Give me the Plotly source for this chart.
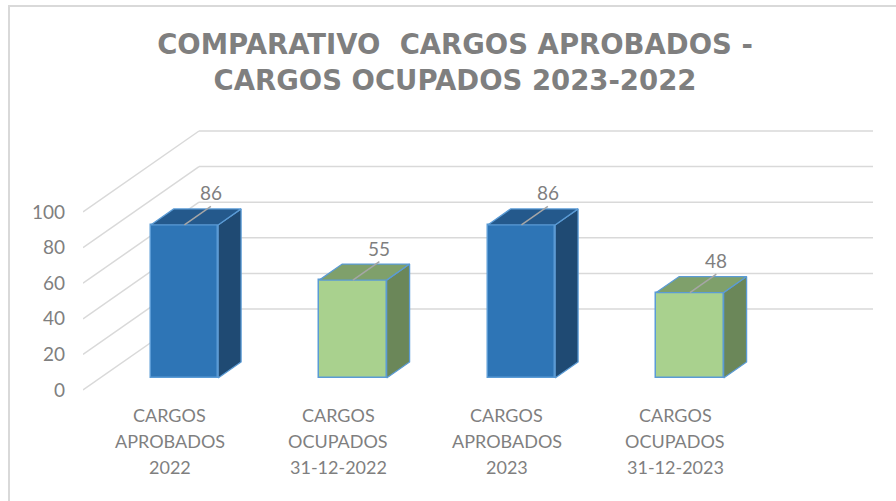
import plotly.graph_objects as go

# ---------------- data ----------------
categories = [
    "CARGOS<br>APROBADOS<br>2022",
    "CARGOS<br>OCUPADOS<br>31-12-2022",
    "CARGOS<br>APROBADOS<br>2023",
    "CARGOS<br>OCUPADOS<br>31-12-2023",
]
values = [86, 55, 86, 48]
bar_kind = ["aprobados", "ocupados", "aprobados", "ocupados"]
y_ticks = [0, 20, 40, 60, 80, 100]
title_text = "COMPARATIVO  CARGOS APROBADOS -<br>CARGOS OCUPADOS 2023-2022"

# ---------------- styles ----------------
FACE_COLORS = {
    "aprobados": {"front": "#2E75B6", "top": "#24598C", "side": "#1F4A73"},
    "ocupados": {"front": "#A9D18E", "top": "#7FA06B", "side": "#6B8759"},
}
EDGE = "#5B9BD5"
GRID = "#D9D9D9"
TXT = "#7F7F7F"
LABEL_FONT = "Lato"

# ---------------- geometry (pixel calibration) ----------------
W, H = 896, 501
PLOT_L = 83            # left edge of plot area (front plane, category -0.5)
X_PX = 168.5           # px per category
Y_PX = 1.78            # px per value unit
Y0_PX = 390            # pixel row of value 0 on the front plane
DEPTH_X = 116 / X_PX   # full wall depth, in category units
DEPTH_Y = 81 / Y_PX    # full wall depth, in value units
BAR_FRONT = 0.148      # depth fraction of bar front face
BAR_BACK = 0.346       # depth fraction of bar back face
BAR_W = 0.40

x_range = [-0.5, -0.5 + (W - PLOT_L) / X_PX]
y_range = [-(H - Y0_PX) / Y_PX, Y0_PX / Y_PX]


def proj(x, v, d):
    return x + d * DEPTH_X, v + d * DEPTH_Y


def px_to_v(py):
    return (Y0_PX - py) / Y_PX


fig = go.Figure()
shapes = []

# walls: back-wall gridlines and left-wall diagonals
n = len(values)
for t in y_ticks:
    xa, ya = proj(-0.5, t, 1)
    xb, yb = proj(n - 0.5, t, 1)
    shapes.append(dict(type="line", xref="x", yref="y", x0=xa, y0=ya, x1=xb, y1=yb,
                       line=dict(color=GRID, width=1.5), layer="below"))
    xf, yf = proj(-0.5, t, 0)
    shapes.append(dict(type="line", xref="x", yref="y", x0=xf, y0=yf, x1=xa, y1=ya,
                       line=dict(color=GRID, width=1.5), layer="below"))


# chart border
def paper_x(px):
    return (px - PLOT_L) / (W - PLOT_L)


def paper_y(py):
    return 1 - py / H


shapes.append(dict(type="rect", xref="paper", yref="paper",
                   x0=paper_x(9), y0=paper_y(505), x1=paper_x(898), y1=paper_y(6),
                   line=dict(color=GRID, width=2), fillcolor="rgba(0,0,0,0)", layer="below"))

# front faces as bars
base_v = BAR_FRONT * DEPTH_Y
fig.add_trace(go.Bar(
    x=[i + BAR_FRONT * DEPTH_X for i in range(n)],
    y=values,
    base=[base_v] * n,
    width=BAR_W,
    marker=dict(color=[FACE_COLORS[k]["front"] for k in bar_kind],
                line=dict(color=EDGE, width=1.5)),
    hoverinfo="skip",
    showlegend=False,
))

annotations = []
for i, (v, k) in enumerate(zip(values, bar_kind)):
    xl, xr = i - BAR_W / 2, i + BAR_W / 2
    # side face
    pts = [proj(xr, 0, BAR_FRONT), proj(xr, v, BAR_FRONT), proj(xr, v, BAR_BACK), proj(xr, 0, BAR_BACK)]
    fig.add_trace(go.Scatter(
        x=[p[0] for p in pts] + [pts[0][0]], y=[p[1] for p in pts] + [pts[0][1]],
        mode="lines", fill="toself", fillcolor=FACE_COLORS[k]["side"],
        line=dict(color=EDGE, width=1.3), hoverinfo="skip", showlegend=False))
    # top face
    pts = [proj(xl, v, BAR_FRONT), proj(xr, v, BAR_FRONT), proj(xr, v, BAR_BACK), proj(xl, v, BAR_BACK)]
    fig.add_trace(go.Scatter(
        x=[p[0] for p in pts] + [pts[0][0]], y=[p[1] for p in pts] + [pts[0][1]],
        mode="lines", fill="toself", fillcolor=FACE_COLORS[k]["top"],
        line=dict(color=EDGE, width=1.3), hoverinfo="skip", showlegend=False))
    # leader line
    f = proj(i, v, BAR_FRONT)
    b = proj(i, v, BAR_BACK + 0.03)
    fig.add_trace(go.Scatter(x=[f[0], b[0]], y=[f[1], b[1]], mode="lines",
                             line=dict(color="#A6A6A6", width=1.5),
                             hoverinfo="skip", showlegend=False))
    # data label
    annotations.append(dict(x=b[0], y=b[1], xref="x", yref="y", text=str(v),
                            showarrow=False, yanchor="bottom", yshift=0,
                            font=dict(family=LABEL_FONT, size=19, color=TXT)))
    # category label lines
    for j, line in enumerate(categories[i].split("<br>")):
        annotations.append(dict(x=i + 0.015, y=px_to_v(415 + 26 * j), xref="x", yref="y",
                                text=line, showarrow=False, yanchor="middle",
                                font=dict(family=LABEL_FONT, size=18, color=TXT)))

fig.update_layout(
    width=W, height=H,
    margin=dict(l=PLOT_L, r=0, t=0, b=0, autoexpand=False),
    paper_bgcolor="white", plot_bgcolor="rgba(0,0,0,0)",
    title=dict(text=title_text, xref="container", yref="container",
               x=455 / W, xanchor="center", y=1 - 54 / H, yanchor="top",
               font=dict(family="DejaVu Sans", size=27.5, color=TXT, weight="bold")),
    xaxis=dict(range=x_range, showgrid=False, zeroline=False, showticklabels=False,
               showline=False, fixedrange=True),
    yaxis=dict(range=y_range, showgrid=False, zeroline=False, showline=False,
               tickmode="array", tickvals=y_ticks, ticks="", ticklabelstandoff=17,
               tickfont=dict(family=LABEL_FONT, size=19, color=TXT),
               automargin=False, fixedrange=True),
    shapes=shapes,
    annotations=annotations,
    bargap=0,
)

fig.write_html("out.html", config={"displayModeBar": False},
               post_script="document.body.style.margin='0';document.body.style.overflow='hidden';")
